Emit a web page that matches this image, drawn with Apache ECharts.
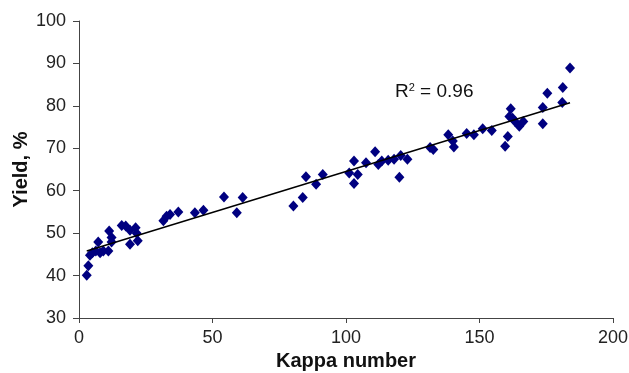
<!DOCTYPE html>
<html>
<head>
<meta charset="utf-8">
<script src="https://cdn.jsdelivr.net/npm/echarts@6/dist/echarts.min.js"></script>
<style>html,body{margin:0;padding:0;background:#fff}#c{width:629px;height:373px}</style>
</head>
<body>
<div id="c"></div>
<script>
const kappa = [2.9,3.5,4.1,5.0,6.3,7.2,7.9,9.1,11.0,11.3,12.2,12.2,16.0,17.5,19.1,19.1,21.2,21.6,22.0,31.6,32.8,34.1,37.2,43.4,46.6,
  54.3,59.1,61.3,80.3,83.8,85.0,88.8,91.3,
  101.2,103.0,103.0,104.4,107.5,110.9,112.1,113.4,115.8,118.0,120.0,120.5,123.0,131.5,132.7,138.3,140.0,140.4,
  145.2,147.9,151.2,154.6,159.6,160.6,161.7,161.2,162.4,163.3,164.9,166.4,173.7,173.7,175.4,181.2,181.0,183.9];
const yieldPct = [40.1,42.3,44.8,45.4,45.8,47.9,45.4,45.8,45.8,50.5,49.0,47.9,51.8,51.7,50.7,47.4,51.3,50.0,48.2,52.9,54.0,54.4,55.0,54.8,55.4,
  58.5,54.8,58.4,56.4,58.4,63.3,61.5,63.8,
  64.2,67.0,61.7,63.8,66.6,69.2,66.2,67.0,67.2,67.4,63.2,68.3,67.4,70.2,69.7,73.2,71.7,70.3,
  73.5,73.2,74.6,74.2,70.5,72.8,79.3,77.5,77.1,76.3,75.2,76.3,79.6,75.8,83.0,84.3,80.8,88.9];
const xTicks = [0,50,100,150,200];
const yTicks = [30,40,50,60,70,80,90,100];
const r2Label = '0.96';

// least-squares trend line from the data
const n = kappa.length;
let sx=0,sy=0,sxx=0,sxy=0;
for (let i=0;i<n;i++){sx+=kappa[i];sy+=yieldPct[i];sxx+=kappa[i]*kappa[i];sxy+=kappa[i]*yieldPct[i];}
const slope=(n*sxy-sx*sy)/(n*sxx-sx*sx), icpt=(sy-slope*sx)/n;
const xmin=Math.min(...kappa), xmax=Math.max(...kappa);
const trend=[[xmin,icpt+slope*xmin],[xmax,icpt+slope*xmax]];

const chart = echarts.init(document.getElementById('c'), null, {renderer:'canvas'});
const font = 'Liberation Sans, Arial, sans-serif';
chart.setOption({
  animation:false,
  grid:{left:79,right:16,top:21,bottom:55,containLabel:false,outerBoundsMode:'none'},
  xAxis:{type:'value',min:xTicks[0],max:xTicks[xTicks.length-1],interval:50,
    name:'Kappa number',nameLocation:'middle',nameGap:33,nameMoveOverlap:false,
    nameTextStyle:{fontFamily:font,fontWeight:'bold',fontSize:20,color:'#111'},
    axisLine:{lineStyle:{color:'#444',width:1}},
    axisTick:{show:true,length:5,lineStyle:{color:'#444'}},
    axisLabel:{fontFamily:font,fontSize:18,color:'#222',margin:11},
    splitLine:{show:false}},
  yAxis:{type:'value',min:yTicks[0],max:yTicks[yTicks.length-1],interval:10,
    name:'Yield, %',nameLocation:'middle',nameGap:48,nameMoveOverlap:false,
    nameTextStyle:{fontFamily:font,fontWeight:'bold',fontSize:20,color:'#111'},
    axisLine:{show:true,lineStyle:{color:'#444',width:1}},
    axisTick:{show:true,length:6,lineStyle:{color:'#444'}},
    axisLabel:{fontFamily:font,fontSize:18,color:'#222',margin:13},
    splitLine:{show:false}},
  series:[
    {type:'line',data:trend,symbol:'none',lineStyle:{color:'#000',width:1.5},z:3},
    {type:'scatter',data:kappa.map((k,i)=>[k,yieldPct[i]]),symbol:'diamond',symbolSize:[10,11],
      itemStyle:{color:'#000080',opacity:1},z:2}
  ],
  graphic:[{type:'text',left:395,top:82,style:{
    text:'R{s|2} = '+r2Label,
    rich:{s:{fontSize:11,verticalAlign:'top',padding:[0,0,9,0],fontFamily:font,fill:'#111'}},
    font:'19px '+font,fill:'#111'}}]
});
</script>
</body>
</html>
